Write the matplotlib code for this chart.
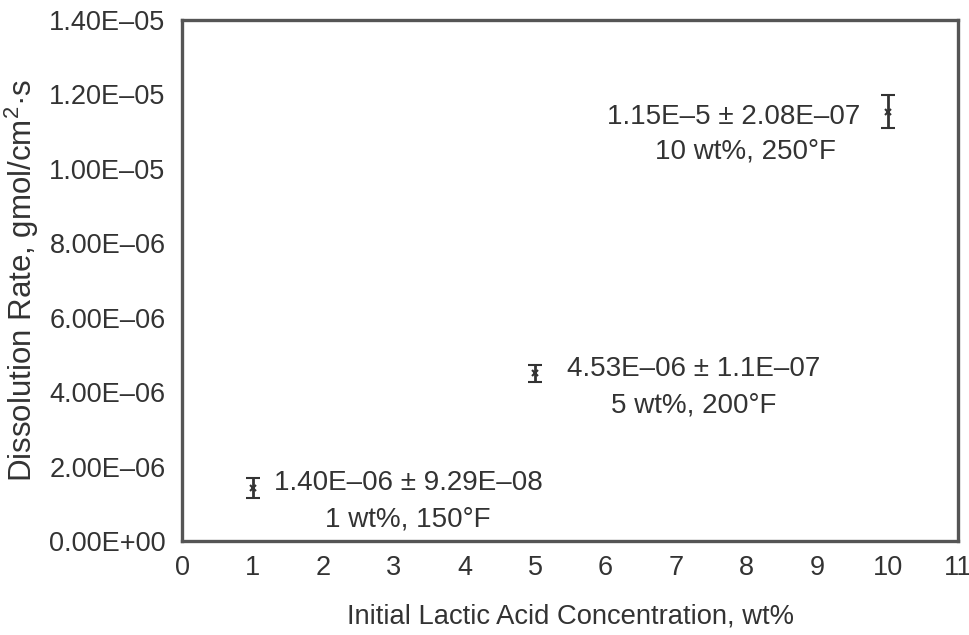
import matplotlib
matplotlib.use('Agg')
import matplotlib.pyplot as plt
from matplotlib.ticker import FuncFormatter

plt.rcParams['font.family'] = ['Liberation Sans', 'DejaVu Sans']
plt.rcParams['mathtext.fontset'] = 'custom'
plt.rcParams['mathtext.rm'] = 'Liberation Sans'

# Data
conc = [1, 5, 10]
rate = [1.42e-06, 4.50e-06, 1.153e-05]
err = [2.7e-07, 2.4e-07, 4.4e-07]
stat_text = ['1.40E\u201306 \u00b1 9.29E\u201308',
             '4.53E\u201306 \u00b1 1.1E\u201307',
             '1.15E\u20135 \u00b1 2.08E\u201307']
cond_text = ['1 wt%, 150\u00b0F', '5 wt%, 200\u00b0F', '10 wt%, 250\u00b0F']
stat_pos = [(3.2, 1.56e-06), (7.25, 4.62e-06), (7.82, 1.139e-05)]
cond_pos = [(3.2, 0.59e-06), (7.25, 3.65e-06), (7.98, 1.045e-05)]

fig = plt.figure(figsize=(9.69, 6.35), dpi=100)
ax = fig.add_axes([0.188, 0.148, 0.801, 0.821])

ax.errorbar(conc, rate, yerr=err, fmt='x', color='#333333', ms=5, mew=1.5,
            ecolor='#333333', elinewidth=2, capsize=5, capthick=2.2)

txt = '#333333'
for s, p in zip(stat_text, stat_pos):
    ax.text(p[0], p[1], s, ha='center', va='center', fontsize=20, color=txt)
for s, p in zip(cond_text, cond_pos):
    ax.text(p[0], p[1], s, ha='center', va='center', fontsize=20, color=txt)

ax.set_xlim(0, 11)
ax.set_ylim(0, 1.4e-05)
ax.set_xticks(range(0, 12))
ax.set_yticks([i * 2e-6 for i in range(8)])
ax.yaxis.set_major_formatter(FuncFormatter(
    lambda v, pos: ('%.2E' % v).replace('-', '\u2013')))
ax.tick_params(length=0, labelsize=19.5, labelcolor=txt)
ax.tick_params(axis='y', pad=12)
ax.tick_params(axis='x', pad=10)

for sp in ax.spines.values():
    sp.set_color('#555555')
    sp.set_linewidth(2.4)

ax.set_xlabel('Initial Lactic Acid Concentration, wt%', fontsize=19.7,
              color=txt, labelpad=16)
ax.set_ylabel('Dissolution Rate, gmol/cm$^2$\u00b7s', fontsize=22.5,
              color=txt, labelpad=6)

plt.savefig('out.png', dpi=100)
